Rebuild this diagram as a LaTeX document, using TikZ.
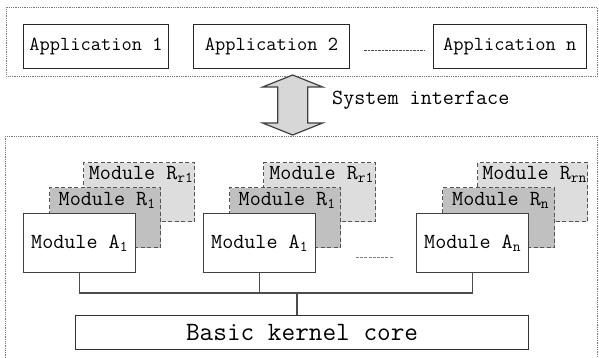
\documentclass[tikz,border=0pt]{standalone}
\usepackage{fontspec}
\usetikzlibrary{calc}
\definecolor{lgray}{RGB}{221,221,221}
\definecolor{mgray}{RGB}{192,192,192}
\definecolor{bord}{RGB}{85,85,85}
\definecolor{dotc}{RGB}{120,120,120}
\definecolor{arrowfill}{RGB}{215,215,215}
\tikzset{
  apptext/.style={font=\ttfamily\fontsize{19.9}{22}\selectfont},
  modtext/.style={font=\ttfamily\fontsize{21.5}{24}\selectfont, inner sep=0pt},
  kerntext/.style={font=\ttfamily\fontsize{26.5}{29}\selectfont},
  dotbox/.style={draw=dotc, line width=0.9pt, dash pattern=on 0.9pt off 0.9pt, anchor=north west, inner sep=0pt},
  appbox/.style={draw=black!85, line width=1.2pt, fill=white, anchor=north west, minimum height=44pt, inner sep=0pt, apptext},
  rrbox/.style={draw=bord, line width=1.3pt, dash pattern=on 4pt off 2.5pt, fill=lgray, anchor=north west, minimum width=111pt, minimum height=59pt, inner sep=0pt},
  rbox/.style={draw=bord, line width=1.3pt, dash pattern=on 4pt off 2.5pt, fill=mgray, anchor=north west, minimum width=111pt, minimum height=60pt, inner sep=0pt},
  abox/.style={draw=black!75, line width=1.2pt, fill=white, anchor=north west, minimum width=112pt, minimum height=59pt, inner sep=0pt, modtext},
  kernbox/.style={draw=black!80, line width=1.2pt, fill=white, anchor=north west, minimum width=453pt, minimum height=34pt, inner sep=0pt, kerntext},
  wire/.style={draw=black!70, line width=1.1pt},
  gapdots/.style={draw=black!70, line width=1pt, dash pattern=on 3pt off 1.2pt},
  bigarrow/.style={draw=black!75, line width=1.2pt, fill=arrowfill, line join=miter}
}
\begin{document}
\begin{tikzpicture}[x=1pt,y=-1pt]
\clip (0,0) rectangle (599,358);
\fill[white] (0,0) rectangle (599,358);

% top frame with applications
\node[dotbox, minimum width=591pt, minimum height=69pt] (topframe) at (6,7) {};
\node[appbox, minimum width=145pt] (app1) at (23,24) {Application 1};
\node[appbox, minimum width=156pt] (app2) at (193,24) {Application 2};
\node[appbox, minimum width=152.5pt] (appn) at (433,24) {Application n};
\coordinate (appdotsL) at (364,50);
\coordinate (appdotsR) at (425,50);
\draw[gapdots, line width=0.9pt, dash pattern=on 2.5pt off 1pt] (appdotsL) -- (appdotsR);

% bottom frame
\node[dotbox, minimum width=592pt, minimum height=235pt] (botframe) at (5,136) {};

% system interface arrow
\coordinate (arrowtop) at (292.7,75);
\coordinate (arrowbot) at (292.7,135);
\draw[bigarrow] (arrowtop) -- ++(-30,12) -- ++(15,0) -- ($(arrowbot)+(-15,-12)$) -- ++(-15,0)
  -- (arrowbot) -- ++(30,-12) -- ++(-15,0) -- ($(arrowtop)+(15,12)$) -- ++(15,0) -- cycle;
\node[modtext, anchor=west] (sysif) at (332,100) {System interface};

% module group 1
\node[rrbox] (rr1) at (83,162) {};
\node[rbox] (r1) at (49,187) {};
\node[abox] (a1) at (23,213) {Module A\textsubscript{1}};
\node[modtext] (rr1t) at ($(rr1.north)+(2,12.5)$) {Module R\textsubscript{r1}};
\node[modtext] (r1t) at ($(r1.north)+(2,13)$) {Module R\textsubscript{1}};

% module group 2
\node[rrbox, minimum width=112pt] (rr2) at (263,162) {};
\node[rbox] (r2) at (229,187) {};
\node[abox] (a2) at (203,213) {Module A\textsubscript{1}};
\node[modtext] (rr2t) at ($(rr2.north)+(2,12.5)$) {Module R\textsubscript{r1}};
\node[modtext] (r2t) at ($(r2.north)+(2,13)$) {Module R\textsubscript{1}};

% module group n
\node[rrbox, minimum width=110pt] (rrn) at (477,162) {};
\node[rbox, minimum width=112pt] (rn) at (442,187) {};
\node[abox] (an) at (416,213) {Module A\textsubscript{n}};
\node[modtext] (rrnt) at ($(rrn.north)+(2,12.5)$) {Module R\textsubscript{rn}};
\node[modtext] (rnt) at ($(rn.north)+(2,13)$) {Module R\textsubscript{n}};

\coordinate (moddotsL) at (356,257);
\coordinate (moddotsR) at (393,257);
\draw[gapdots, draw=black!50] (moddotsL) -- (moddotsR);

% kernel and bus
\node[kernbox] (kernel) at (75,315) {Basic kernel core};
\coordinate (bus) at (297,293);
\draw[wire] (a1.south) -- (a1.south |- bus) -- (an.south |- bus) -- (an.south);
\draw[wire] (a2.south) -- (a2.south |- bus);
\draw[wire] (bus) -- (bus |- kernel.north);
\end{tikzpicture}
\end{document}
